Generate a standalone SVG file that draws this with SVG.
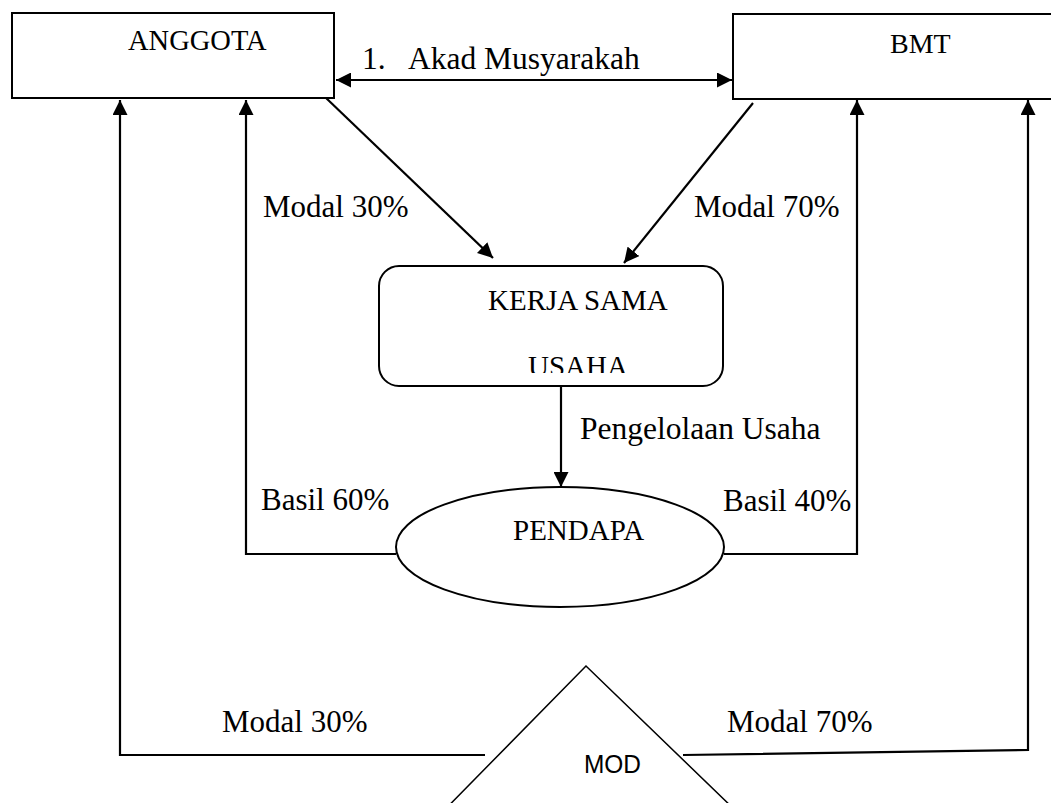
<svg xmlns="http://www.w3.org/2000/svg" width="1051" height="803" viewBox="0 0 1051 803">
<style>
.t{font-family:"Liberation Serif","Times New Roman",serif;fill:#000;}
.s{fill:#fff;stroke:#000;stroke-width:2;}
.c{fill:none;stroke:#000;stroke-width:2.2;}
</style>
<defs>
<marker id="ah" viewBox="0 0 10 10" refX="10" refY="5" markerWidth="15" markerHeight="15" markerUnits="userSpaceOnUse" orient="auto-start-reverse">
<path d="M0,0 L10,5 L0,10 Z" fill="#000"/>
</marker>
<clipPath id="kc"><rect x="380" y="267" width="342" height="106"/></clipPath>
</defs>
<rect width="1051" height="803" fill="#fff"/>
<g id="connectors">
<line class="c" x1="336" y1="80" x2="732" y2="80" marker-start="url(#ah)" marker-end="url(#ah)"/>
<line class="c" x1="325" y1="97" x2="493" y2="258" marker-end="url(#ah)"/>
<line class="c" x1="753" y1="103" x2="624" y2="263" marker-end="url(#ah)"/>
<line class="c" x1="561" y1="386" x2="561" y2="487" marker-end="url(#ah)"/>
<polyline class="c" points="396,554 246,554 246,100" marker-end="url(#ah)"/>
<polyline class="c" points="724,554 857,554 857,100" marker-end="url(#ah)"/>
<polyline class="c" points="485,755 120,755 120,100" marker-end="url(#ah)"/>
<polyline class="c" points="683,755 1028,750 1028,100" marker-end="url(#ah)"/>
<text class="t" font-size="31.5" y="69"><tspan x="362">1.</tspan><tspan x="408">Akad Musyarakah</tspan></text>
<text class="t" font-size="31" x="263" y="217">Modal 30%</text>
<text class="t" font-size="31" x="694" y="217">Modal 70%</text>
<text class="t" font-size="31.5" x="580" y="439">Pengelolaan Usaha</text>
<text class="t" font-size="31" x="261" y="510">Basil 60%</text>
<text class="t" font-size="31" x="723" y="511">Basil 40%</text>
<text class="t" font-size="31" x="222" y="732">Modal 30%</text>
<text class="t" font-size="31" x="727" y="732">Modal 70%</text>
</g>
<g id="anggota">
<rect class="s" x="12" y="13" width="322" height="85"/>
<text class="t" font-size="28.5" x="128" y="50">ANGGOTA</text>
</g>
<g id="bmt">
<rect class="s" x="733" y="14" width="340" height="85"/>
<text class="t" font-size="28" x="890" y="53">BMT</text>
</g>
<g id="kerjasama">
<rect class="s" x="379" y="266" width="344" height="120" rx="20" ry="20"/>
<text class="t" font-size="29" x="488" y="310">KERJA SAMA</text>
<text class="t" font-size="29" x="528" y="376" clip-path="url(#kc)">USAHA</text>
</g>
<g id="pendapa">
<ellipse class="s" cx="560" cy="547" rx="164" ry="60"/>
<text class="t" font-size="29" x="513" y="540">PENDAPA</text>
</g>
<g id="mod">
<polygon points="586,666 415,840 766,840" fill="#fff" stroke="#000" stroke-width="1.5"/>
<text font-family="'Liberation Sans',Arial,sans-serif" font-size="25" x="584" y="773" textLength="57" lengthAdjust="spacingAndGlyphs">MOD</text>
</g>
</svg>
